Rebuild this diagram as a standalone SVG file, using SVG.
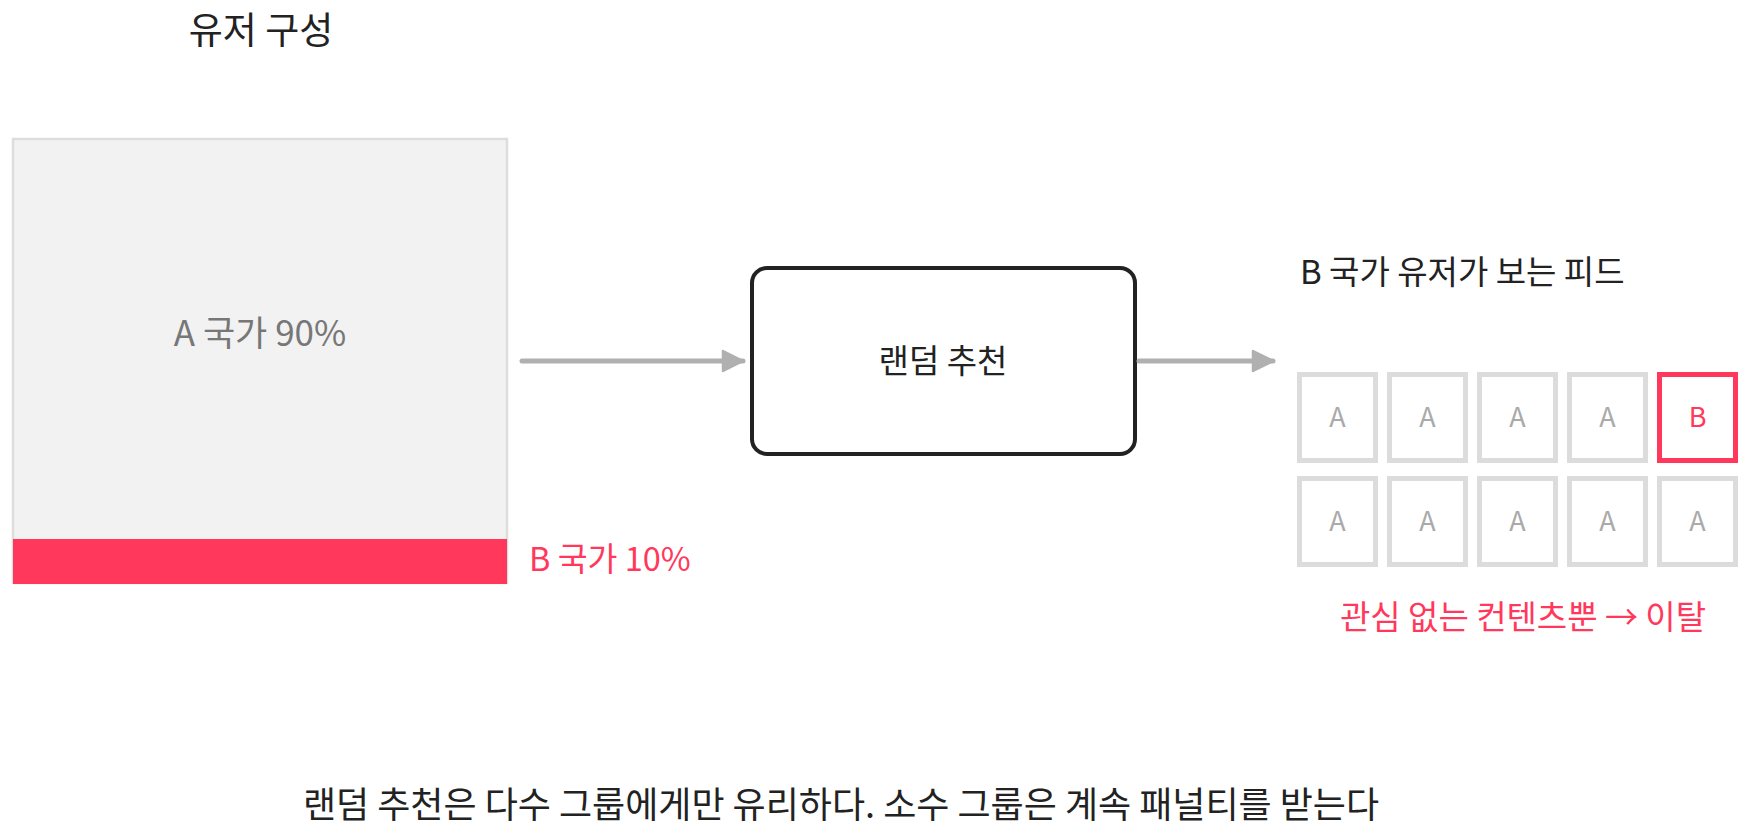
<svg xmlns="http://www.w3.org/2000/svg" width="1750" height="834" viewBox="0 0 1750 834">
<style>
text{font-family:"Noto Sans CJK KR","Noto Sans",sans-serif}
.dark{fill:#222}
.grayt{fill:#777}
.red{fill:#ff385c}
.cell{fill:#fff;stroke:#dcdcdc;stroke-width:5}
.cellB{fill:#fff;stroke:#ff385c;stroke-width:5}
.ct{fill:#aaa;font-size:27px;text-anchor:middle}
.conn{stroke:#b0b0b0;stroke-width:5;stroke-linecap:round;fill:none}
</style>
<defs>
<marker id="ah" viewBox="0 0 24 24" refX="22" refY="12" markerWidth="24" markerHeight="24" markerUnits="userSpaceOnUse" orient="auto">
<path d="M2,2 L22,12 L2,22 Z" fill="#b0b0b0" stroke="#b0b0b0" stroke-width="2.5" stroke-linejoin="round"/>
</marker>
</defs>
<rect width="1750" height="834" fill="#fff"/>
<g id="title">
<text x="261" y="44" class="dark" font-size="37" text-anchor="middle">유저 구성</text>
</g>
<g id="users">
<rect x="13" y="139" width="494" height="444" fill="#f2f2f2" stroke="#dddddd" stroke-width="2.5"/>
<rect x="13" y="539" width="494" height="45" fill="#ff385c"/>
<text x="260" y="346" class="grayt" font-size="35" text-anchor="middle">A 국가 90%</text>
</g>
<g id="b-label">
<text x="529" y="571" class="red" font-size="32.5">B 국가 10%</text>
</g>
<g id="random">
<rect x="752" y="268" width="383" height="186" rx="15" fill="#fff" stroke="#222" stroke-width="4"/>
<text x="943" y="373" class="dark" font-size="33" text-anchor="middle">랜덤 추천</text>
</g>
<g id="feed-title">
<text x="1300" y="284" class="dark" font-size="33">B 국가 유저가 보는 피드</text>
</g>
<g id="feed">
<rect class="cell" x="1299.5" y="374.5" width="76" height="86"/><text class="ct" x="1337.5" y="427">A</text>
<rect class="cell" x="1389.5" y="374.5" width="76" height="86"/><text class="ct" x="1427.5" y="427">A</text>
<rect class="cell" x="1479.5" y="374.5" width="76" height="86"/><text class="ct" x="1517.5" y="427">A</text>
<rect class="cell" x="1569.5" y="374.5" width="76" height="86"/><text class="ct" x="1607.5" y="427">A</text>
<rect class="cellB" x="1659.5" y="374.5" width="76" height="86"/><text class="ct" x="1697.5" y="427" style="fill:#ff385c">B</text>
<rect class="cell" x="1299.5" y="478.5" width="76" height="86"/><text class="ct" x="1337.5" y="531">A</text>
<rect class="cell" x="1389.5" y="478.5" width="76" height="86"/><text class="ct" x="1427.5" y="531">A</text>
<rect class="cell" x="1479.5" y="478.5" width="76" height="86"/><text class="ct" x="1517.5" y="531">A</text>
<rect class="cell" x="1569.5" y="478.5" width="76" height="86"/><text class="ct" x="1607.5" y="531">A</text>
<rect class="cell" x="1659.5" y="478.5" width="76" height="86"/><text class="ct" x="1697.5" y="531">A</text>
</g>
<g id="churn">
<text x="1523" y="629" class="red" font-size="33" text-anchor="middle">관심 없는 컨텐츠뿐 → 이탈</text>
</g>
<g id="conclusion">
<text x="841" y="818" class="dark" font-size="36" text-anchor="middle">랜덤 추천은 다수 그룹에게만 유리하다. 소수 그룹은 계속 패널티를 받는다</text>
</g>
<g id="connectors">
<line class="conn" x1="522" y1="361" x2="743" y2="361" marker-end="url(#ah)"/>
<line class="conn" x1="1139" y1="361" x2="1273" y2="361" marker-end="url(#ah)"/>
</g>
</svg>
